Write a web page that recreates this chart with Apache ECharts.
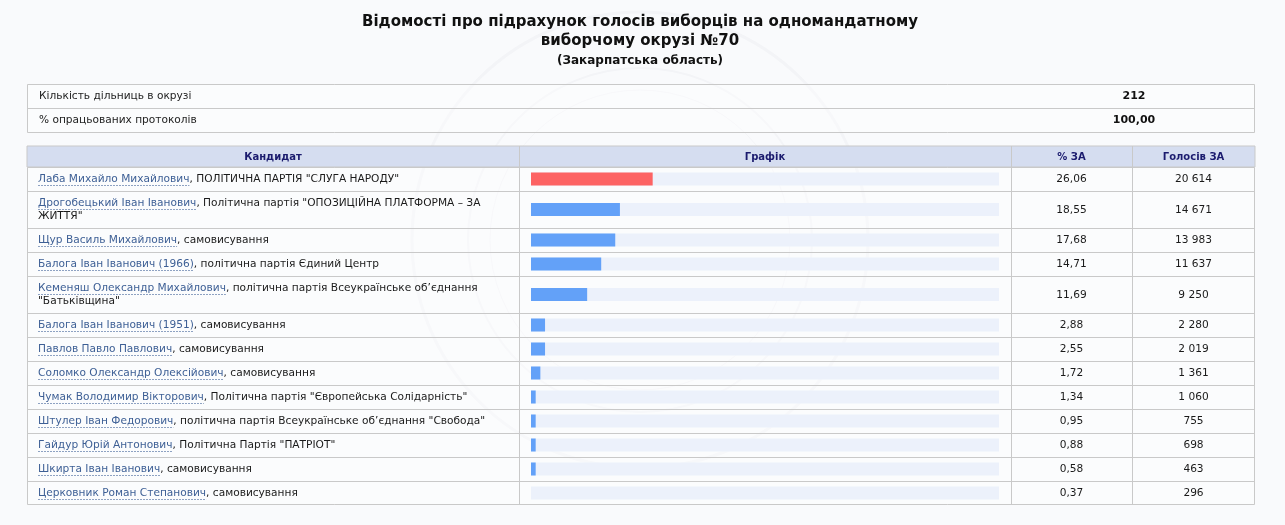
<!DOCTYPE html>
<html><head><meta charset="utf-8">
<script src="https://cdn.jsdelivr.net/npm/echarts@6/dist/echarts.min.js"></script>
<style>html,body{margin:0;padding:0;background:#f9fafc}#c{width:1285px;height:525px}</style>
</head><body><div id="c"></div><script>
// ---------- data ----------
const titleLines = ['Відомості про підрахунок голосів виборців на одномандатному', 'виборчому окрузі №70'];
const subtitle = '(Закарпатська область)';
const infoLabels = ['Кількість дільниць в окрузі', '% опрацьованих протоколів'];
const infoValues = ['212', '100,00'];
const headers = ['Кандидат', 'Графік', '% ЗА', 'Голосів ЗА'];
const candidates = ['Лаба Михайло Михайлович', 'Дрогобецький Іван Іванович', 'Щур Василь Михайлович',
  'Балога Іван Іванович (1966)', 'Кеменяш Олександр Михайлович', 'Балога Іван Іванович (1951)',
  'Павлов Павло Павлович', 'Соломко Олександр Олексійович', 'Чумак Володимир Вікторович',
  'Штулер Іван Федорович', 'Гайдур Юрій Антонович', 'Шкирта Іван Іванович', 'Церковник Роман Степанович'];
const parties = ['ПОЛІТИЧНА ПАРТІЯ "СЛУГА НАРОДУ"', 'Політична партія "ОПОЗИЦІЙНА ПЛАТФОРМА – ЗА ЖИТТЯ"',
  'самовисування', 'політична партія Єдиний Центр', 'політична партія Всеукраїнське об’єднання "Батьківщина"',
  'самовисування', 'самовисування', 'самовисування', 'Політична партія "Європейська Солідарність"',
  'політична партія Всеукраїнське об’єднання "Свобода"', 'Політична Партія "ПАТРІОТ"', 'самовисування', 'самовисування'];
const percents = [26.06, 18.55, 17.68, 14.71, 11.69, 2.88, 2.55, 1.72, 1.34, 0.95, 0.88, 0.58, 0.37];
const votes = [20614, 14671, 13983, 11637, 9250, 2280, 2019, 1361, 1060, 755, 698, 463, 296];

// ---------- layout ----------
const FONT = '"DejaVu Sans", Verdana, sans-serif';
const FS = 10.6;
const L = 27, R = 1255;
const colX = [27, 519, 1011, 1132, 1255];
const infoTop = 84, infoRowH = 24;
const headTop = 146, headBot = 167;
const textLeft = 38, wrapW = 470;
const lineH = 13;
const BORDER = '#c9c9c9';

const cv = document.createElement('canvas').getContext('2d');
cv.font = FS + 'px ' + FONT;
const mw = s => cv.measureText(s).width;

// word-wrap "name, party" inside the candidate cell
const rowsText = candidates.map((n, i) => {
  const words = parties[i].split(' ');
  let full = n + ',';
  let k = 0;
  for (; k < words.length; k++) {
    const trial = full + ' ' + words[k];
    if (mw(trial) > wrapW) break;
    full = trial;
  }
  return { name: n, line1: full.slice(n.length), line2: words.slice(k).join(' ') };
});
const rowH = rowsText.map(r => r.line2 ? 37 : 24);
const rowTop = [];
let acc = 0;
rowH.forEach(h => { rowTop.push(acc); acc += h; });
const bodyH = acc;
const rowCenter = rowTop.map((t, i) => t + rowH[i] / 2);

const fmtVotes = v => String(v).replace(/\B(?=(\d{3})+(?!\d))/g, ' ');
const fmtPct = p => p.toFixed(2).replace('.', ',');

// ---------- graphics ----------
const g = [];
// watermark
[[228, 3], [172, 2], [150, 1]].forEach(([r, w]) => g.push({ type: 'circle', silent: true, z: -10,
  shape: { cx: 640, cy: 240, r: r }, style: { fill: 'none', stroke: 'rgba(20,30,70,0.028)', lineWidth: w } }));

// title
titleLines.forEach((t, i) => g.push({ type: 'text', x: 640, y: 22 + i * 19,
  style: { text: t, font: 'bold 15px ' + FONT, fill: '#111', align: 'center', verticalAlign: 'middle' } }));
g.push({ type: 'text', x: 640, y: 61,
  style: { text: subtitle, font: 'bold 12px ' + FONT, fill: '#111', align: 'center', verticalAlign: 'middle' } });

// info table
g.push({ type: 'rect', shape: { x: L + 0.5, y: infoTop + 0.5, width: R - L - 1, height: infoRowH * 2 },
  style: { fill: 'rgba(255,255,255,0.35)', stroke: BORDER, lineWidth: 1 } });
g.push({ type: 'line', shape: { x1: L, y1: infoTop + infoRowH + 0.5, x2: R, y2: infoTop + infoRowH + 0.5 },
  style: { stroke: BORDER, lineWidth: 1 } });
infoLabels.forEach((t, i) => {
  g.push({ type: 'text', x: 39, y: infoTop + infoRowH * i + infoRowH / 2 + 0.5,
    style: { text: t, font: FS + 'px ' + FONT, fill: '#222', verticalAlign: 'middle' } });
  g.push({ type: 'text', x: 1134, y: infoTop + infoRowH * i + infoRowH / 2 + 0.5,
    style: { text: infoValues[i], font: 'bold 11px ' + FONT, fill: '#111', align: 'center', verticalAlign: 'middle' } });
});

// main table header
g.push({ type: 'rect', shape: { x: L, y: headTop, width: R - L, height: headBot - headTop },
  style: { fill: '#d5ddf0', stroke: BORDER, lineWidth: 1 } });
headers.forEach((h, i) => g.push({ type: 'text', x: (colX[i] + colX[i + 1]) / 2, y: (headTop + headBot) / 2 + 0.5,
  style: { text: h, font: 'bold 10px ' + FONT, fill: '#1b1b6e', align: 'center', verticalAlign: 'middle' } }));

// body frame
g.push({ type: 'rect', shape: { x: L + 0.5, y: headBot + 0.5, width: R - L - 1, height: bodyH - 1 },
  style: { fill: 'rgba(255,255,255,0.35)', stroke: BORDER, lineWidth: 1 } });
colX.slice(1, 4).forEach(x => g.push({ type: 'line', shape: { x1: x + 0.5, y1: headTop, x2: x + 0.5, y2: headBot + bodyH },
  style: { stroke: BORDER, lineWidth: 1 } }));
rowTop.slice(1).forEach(t => g.push({ type: 'line', shape: { x1: L, y1: headBot + t + 0.5, x2: R, y2: headBot + t + 0.5 },
  style: { stroke: BORDER, lineWidth: 1 } }));

// candidate text
rowsText.forEach((r, i) => {
  const two = !!r.line2;
  const y1 = headBot + rowCenter[i] - (two ? lineH / 2 : 0);
  const nw = mw(r.name);
  g.push({ type: 'text', x: textLeft, y: y1,
    style: { text: r.name, font: FS + 'px ' + FONT, fill: '#3d5f95', verticalAlign: 'middle' } });
  g.push({ type: 'line', shape: { x1: textLeft, y1: y1 + 6.5, x2: textLeft + nw, y2: y1 + 6.5 },
    style: { stroke: '#8ea2c2', lineWidth: 1, lineDash: [2, 1] } });
  g.push({ type: 'text', x: textLeft + nw, y: y1,
    style: { text: r.line1, font: FS + 'px ' + FONT, fill: '#1a1a1a', verticalAlign: 'middle' } });
  if (two) g.push({ type: 'text', x: textLeft, y: y1 + lineH,
    style: { text: r.line2, font: FS + 'px ' + FONT, fill: '#1a1a1a', verticalAlign: 'middle' } });
  g.push({ type: 'text', x: (colX[2] + colX[3]) / 2, y: headBot + rowCenter[i] + 0.5,
    style: { text: fmtPct(percents[i]), font: FS + 'px ' + FONT, fill: '#1a1a1a', align: 'center', verticalAlign: 'middle' } });
  g.push({ type: 'text', x: (colX[3] + colX[4]) / 2, y: headBot + rowCenter[i] + 0.5,
    style: { text: fmtVotes(votes[i]), font: FS + 'px ' + FONT, fill: '#1a1a1a', align: 'center', verticalAlign: 'middle' } });
});

// ---------- chart ----------
const chart = echarts.init(document.getElementById('c'), null, { renderer: 'canvas' });
chart.setOption({
  backgroundColor: '#f9fafc',
  animation: false,
  graphic: { elements: g },
  grid: { left: 531, width: 468, top: headBot, height: bodyH },
  xAxis: { type: 'value', min: 0, max: 100, show: false },
  yAxis: { type: 'value', min: 0, max: bodyH, inverse: true, show: false },
  series: [{
    type: 'custom',
    z: 10,
    data: percents.map((p, i) => [Math.round(p), rowCenter[i]]),
    renderItem: (params, api) => {
      const c = api.value(1);
      const p0 = api.coord([0, c]);
      const pe = api.coord([100, c]);
      const pb = api.coord([api.value(0), c]);
      const h = 13;
      const ch = [{ type: 'rect', shape: { x: p0[0], y: p0[1] - h / 2, width: pe[0] - p0[0], height: h },
        style: { fill: '#ecf1fb' } }];
      if (pb[0] > p0[0]) ch.push({ type: 'rect', shape: { x: p0[0], y: p0[1] - h / 2, width: pb[0] - p0[0], height: h },
        style: { fill: params.dataIndex === 0 ? '#fd6363' : '#63a1f8' } });
      return { type: 'group', children: ch };
    }
  }]
});
</script></body></html>
